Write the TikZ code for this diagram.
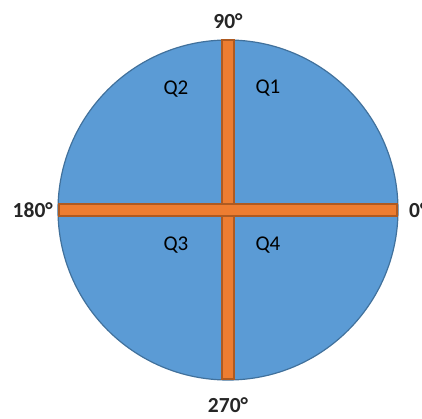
\documentclass[tikz,border=0pt]{standalone}
\usepackage{fontspec}
\setmainfont{Carlito}
\usepackage{xcolor}
\usetikzlibrary{positioning, calc}
\definecolor{discblue}{RGB}{91,155,213}
\definecolor{discedge}{RGB}{65,113,156}
\definecolor{barorange}{RGB}{237,125,49}
\definecolor{baredge}{RGB}{174,90,33}

\begin{document}
\begin{tikzpicture}[x=1pt, y=1pt,
  bar/.style={fill=barorange, draw=baredge, line width=1.2pt},
  deg/.style={font=\fontsize{21.5}{24}\selectfont\bfseries, text=black!85, inner sep=0pt},
  quad/.style={font=\fontsize{21}{24}\selectfont, text=black, inner sep=0pt}]
  \useasboundingbox (-228,-209) rectangle (194,210);
  \fill[discblue, draw=discedge, line width=1.2pt] (0,0) coordinate (o) circle (170);
  % bars
  \draw[bar] (-6,-169) rectangle (6,170);
  \draw[bar] (-169,-6) rectangle (169,6);
  % angles
  \node[deg] (n90) at (0,189) {90°};
  \node[deg] (n270) at (0,-195) {270°};
  \node[deg, anchor=east] (n180) at (-175,0) {180°};
  \node[deg, anchor=west] (n0) at (181,0) {0°};
  % quadrants
  \node[quad] (q1) at (40,122) {Q1};
  \node[quad] (q2) at (-52,121) {Q2};
  \node[quad] (q3) at (-52,-35) {Q3};
  \node[quad] (q4) at (40,-35) {Q4};
\end{tikzpicture}
\end{document}
